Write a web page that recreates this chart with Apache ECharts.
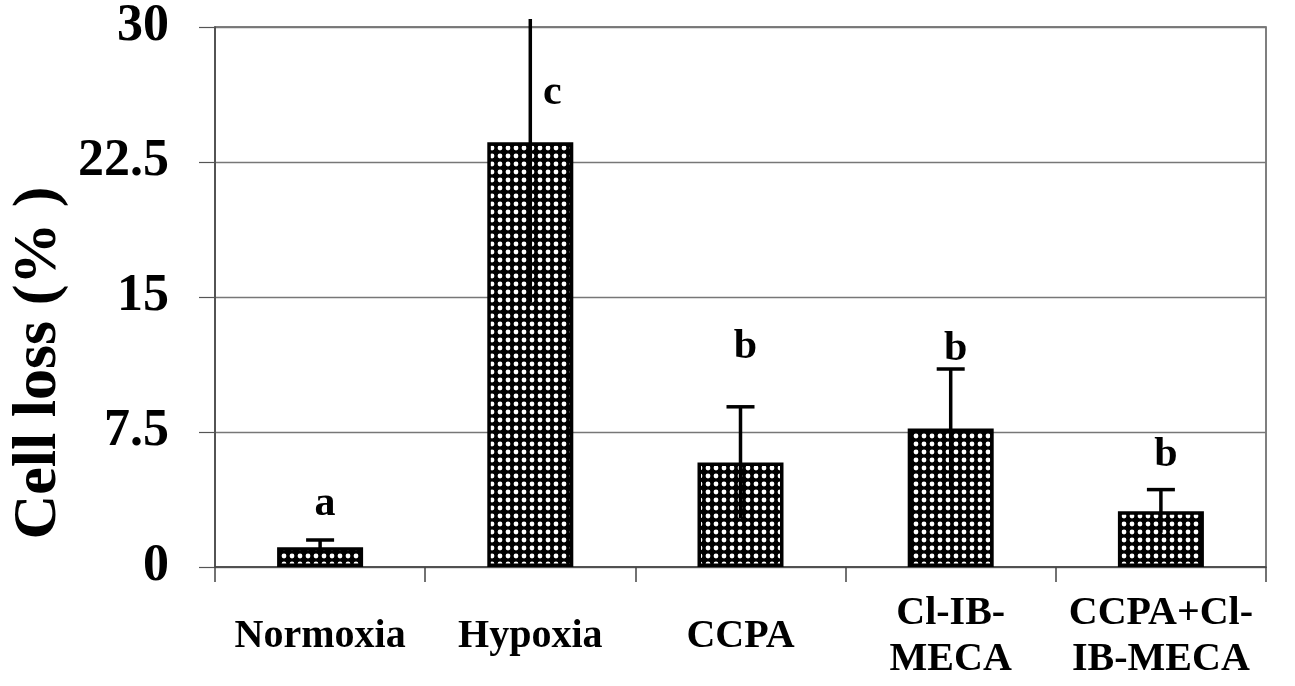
<!DOCTYPE html>
<html>
<head>
<meta charset="utf-8">
<script src="https://cdn.jsdelivr.net/npm/echarts@6/dist/echarts.min.js"></script>
<style>
  html, body { margin: 0; padding: 0; background: #fff; }
  #chart { width: 1295px; height: 686px; }
</style>
</head>
<body>
<div id="chart"></div>
<script>
const categories = ['Normoxia', 'Hypoxia', 'CCPA', 'Cl-IB-\nMECA', 'CCPA+Cl-\nIB-MECA'];
const meanLoss = [1.1, 23.6, 5.8, 7.7, 3.1];
const semLoss = [0.4, 8.9, 3.1, 3.3, 1.2];
const letters = ['a', 'c', 'b', 'b', 'b'];
const letterHeights = [3.5, 26.3, 12.2, 12.1, 6.2];
const yTicks = [0, 7.5, 15, 22.5, 30];
const yTitle = 'Cell loss (% )';

const FONT = '"Liberation Serif", "Times New Roman", serif';

// checkered dot pattern
function makePattern() {
  const c = document.createElement('canvas');
  c.width = 8; c.height = 8;
  const ctx = c.getContext('2d');
  ctx.fillStyle = '#000';
  ctx.fillRect(0, 0, 8, 8);
  ctx.fillStyle = '#fff';
  ctx.beginPath();
  ctx.arc(4, 4, 2.4, 0, Math.PI * 2);
  ctx.fill();
  return c;
}

const chart = echarts.init(document.getElementById('chart'), null, { renderer: 'canvas' });

const errData = meanLoss.map((m, i) => [i, m - semLoss[i], m + semLoss[i]]);
const letterData = letters.map((l, i) => [i, letterHeights[i], l]);

chart.setOption({
  animation: false,
  backgroundColor: '#fff',
  grid: {
    left: 215, right: 29, top: 27, bottom: 119,
    show: true, borderColor: '#555', borderWidth: 1.5, backgroundColor: 'transparent'
  },
  xAxis: {
    type: 'category',
    data: categories,
    axisLine: { lineStyle: { color: '#444', width: 1.5 } },
    axisTick: { show: true, length: 15, lineStyle: { color: '#444', width: 1.5 } },
    axisLabel: {
      interval: 0,
      color: '#000',
      fontFamily: FONT,
      fontWeight: 'bold',
      fontSize: 40,
      lineHeight: 46,
      verticalAlign: 'middle',
      margin: 70
    }
  },
  yAxis: {
    type: 'value',
    min: yTicks[0],
    max: yTicks[yTicks.length - 1],
    interval: yTicks[1] - yTicks[0],
    axisLine: { show: true, lineStyle: { color: '#444', width: 1.5 } },
    axisTick: { show: true, length: 16, lineStyle: { color: '#555', width: 1.2 } },
    splitLine: { show: true, lineStyle: { color: '#777', width: 1.3 } },
    axisLabel: {
      color: '#000',
      fontFamily: FONT,
      fontWeight: 'bold',
      fontSize: 52,
      margin: 46
    }
  },
  graphic: [{
    type: 'text',
    x: 39,
    y: 363,
    rotation: Math.PI / 2,
    style: {
      text: yTitle,
      font: 'bold 62px ' + FONT,
      fill: '#000',
      align: 'center',
      verticalAlign: 'middle'
    }
  }],
  series: [
    {
      type: 'bar',
      data: meanLoss,
      barWidth: 86,
      itemStyle: {
        color: { image: makePattern(), repeat: 'repeat' },
        borderColor: '#000',
        borderWidth: 3.5
      },
      z: 2
    },
    {
      type: 'custom',
      data: errData,
      clip: false,
      z: 5,
      renderItem: function (params, api) {
        const i = api.value(0);
        const x = api.coord([i, 0])[0];
        const yLo = api.coord([i, api.value(1)])[1];
        let yHi = api.coord([i, api.value(2)])[1];
        const topLimit = params.coordSys.y - 8;
        const clipped = yHi < topLimit;
        if (clipped) yHi = topLimit;
        const children = [{
          type: 'line',
          shape: { x1: x, y1: yLo, x2: x, y2: yHi },
          style: { stroke: '#000', lineWidth: 3.5 }
        }];
        if (!clipped) {
          children.push({
            type: 'line',
            shape: { x1: x - 14, y1: yHi, x2: x + 14, y2: yHi },
            style: { stroke: '#000', lineWidth: 3.5 }
          });
        }
        return { type: 'group', children: children };
      }
    },
    {
      type: 'custom',
      data: letterData,
      clip: false,
      z: 6,
      renderItem: function (params, api) {
        const i = api.value(0);
        const h = api.value(1);
        const p = api.coord([i, h]);
        const idx = params.dataIndex;
        const lo = meanLoss[idx] - semLoss[idx];
        const hi = meanLoss[idx] + semLoss[idx];
        // shift beside the error line when the letter sits on it
        const dx = (h > lo && h < hi) ? 22 : 5;
        return {
          type: 'text',
          x: p[0] + dx,
          y: p[1],
          style: {
            text: letters[idx],
            font: 'bold 42px ' + FONT,
            fill: '#000',
            align: 'center',
            verticalAlign: 'middle'
          }
        };
      }
    }
  ]
});
</script>
</body>
</html>
